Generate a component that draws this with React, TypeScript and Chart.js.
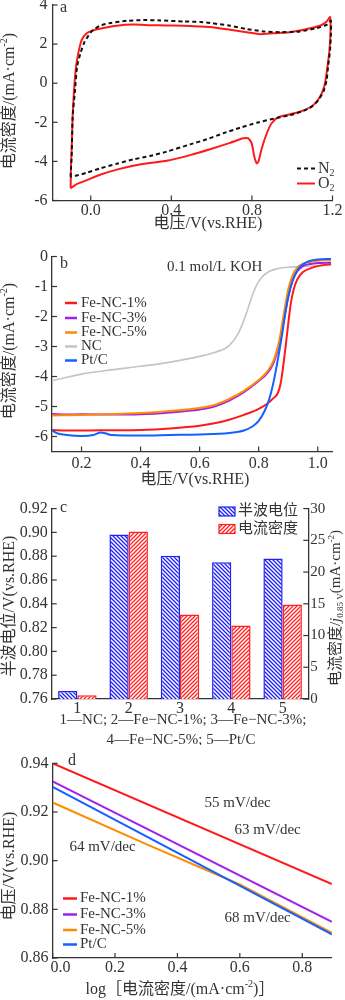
import React, { useEffect, useRef } from 'react';
import { Chart, registerables } from 'chart.js';

Chart.register(...registerables);

const SERIF = '"Liberation Serif", "Times New Roman", "Noto Sans CJK SC", serif';
Chart.defaults.font.family = SERIF;
const TXT = '#333333';
const AXIS = '#333333';
const RED = '#ff1a1a';
const PURPLE = '#a020f0';
const ORANGE = '#ff8c00';
const GRAY = '#c4c4c4';
const BLUE = '#1560ff';
const BAR_BLUE = '#2020f0';
const BAR_RED = '#ff2020';
const W = 345;

// ---------------- Panel a: cyclic voltammetry ----------------
const cvN2Voltage = [-0.1, -0.098, -0.095, -0.09, -0.078, -0.068, -0.051, -0.03, 0.004, 0.046, 0.096, 0.179, 0.261, 0.344, 0.46, 0.543, 0.592, 0.692, 0.774, 0.857, 0.94, 1.039, 1.122, 1.171, 1.192, 1.192, 1.188, 1.178, 1.171, 1.155, 1.13, 1.097, 1.055, 0.989, 0.923, 0.824, 0.741, 0.658, 0.576, 0.493, 0.377, 0.294, 0.21, 0.129, 0.046, -0.02, -0.078, -0.1];
const cvN2Current = [-4.79, -4.3, -3.76, -1.71, -0.34, 0.85, 1.54, 2.13, 2.65, 2.94, 3.08, 3.19, 3.23, 3.21, 3.16, 3.13, 3.08, 2.94, 2.77, 2.65, 2.61, 2.65, 2.82, 2.99, 3.2, 2.56, 1.71, 0.85, 0.17, -0.43, -0.86, -1.2, -1.42, -1.63, -1.78, -2.02, -2.28, -2.56, -2.87, -3.13, -3.5, -3.72, -3.9, -4.12, -4.36, -4.58, -4.75, -4.79];
const cvO2Voltage = [-0.1, -0.098, -0.095, -0.09, -0.083, -0.073, -0.062, -0.045, -0.02, 0.012, 0.062, 0.129, 0.21, 0.294, 0.377, 0.46, 0.543, 0.592, 0.692, 0.774, 0.84, 0.906, 0.989, 1.072, 1.138, 1.171, 1.188, 1.19, 1.185, 1.175, 1.163, 1.147, 1.122, 1.089, 1.039, 0.973, 0.931, 0.898, 0.874, 0.849, 0.832, 0.824, 0.812, 0.799, 0.782, 0.757, 0.691, 0.592, 0.493, 0.377, 0.294, 0.21, 0.129, 0.046, -0.02, -0.07, -0.1];
const cvO2Current = [-5.38, -4.2, -3.42, -1.71, -0.34, 0.85, 1.54, 2.22, 2.56, 2.7, 2.82, 2.94, 3.0, 2.97, 2.95, 2.94, 2.9, 2.87, 2.73, 2.61, 2.51, 2.56, 2.61, 2.77, 2.94, 3.16, 3.38, 2.56, 1.71, 0.85, 0.0, -0.51, -0.94, -1.23, -1.46, -1.63, -1.74, -2.05, -2.56, -3.33, -4.02, -4.1, -3.76, -3.08, -2.82, -2.82, -3.05, -3.38, -3.68, -3.97, -4.08, -4.22, -4.42, -4.68, -4.96, -5.16, -5.38];
const cvXTicks = { min: -0.19, max: 1.2, step: 0.4 };
const cvYTicks = { min: -6, max: 4, step: 2 };

// ---------------- Panel b: LSV ----------------
const lsvNCVoltage = [0.1, 0.2, 0.3, 0.4, 0.5, 0.6, 0.65, 0.7, 0.73, 0.75, 0.765, 0.78, 0.795, 0.81, 0.835, 0.87, 0.9, 0.95, 1.0, 1.045];
const lsvNCCurrent = [-4.14, -3.92, -3.78, -3.66, -3.52, -3.33, -3.2, -2.97, -2.58, -2.12, -1.7, -1.25, -0.92, -0.7, -0.5, -0.39, -0.36, -0.33, -0.31, -0.29];
const lsvFe1Voltage = [0.1, 0.15, 0.2, 0.3, 0.4, 0.5, 0.6, 0.65, 0.7, 0.75, 0.8, 0.83, 0.85, 0.865, 0.875, 0.885, 0.893, 0.9, 0.908, 0.918, 0.93, 0.95, 0.98, 1.0, 1.045];
const lsvFe1Current = [-5.78, -5.8, -5.8, -5.79, -5.78, -5.73, -5.64, -5.56, -5.44, -5.28, -5.08, -4.9, -4.72, -4.55, -4.2, -3.5, -2.85, -2.25, -1.62, -1.12, -0.78, -0.52, -0.38, -0.32, -0.25];
const lsvFe3Voltage = [0.1, 0.15, 0.2, 0.3, 0.4, 0.5, 0.6, 0.65, 0.7, 0.75, 0.8, 0.83, 0.85, 0.865, 0.875, 0.885, 0.9, 0.915, 0.93, 0.95, 0.98, 1.0, 1.045];
const lsvFe3Current = [-5.25, -5.27, -5.26, -5.27, -5.26, -5.2, -5.1, -5.0, -4.8, -4.52, -4.15, -3.88, -3.55, -3.1, -2.7, -2.15, -1.35, -0.8, -0.5, -0.32, -0.24, -0.22, -0.2];
const lsvFe5Voltage = [0.1, 0.2, 0.3, 0.4, 0.5, 0.6, 0.65, 0.7, 0.75, 0.8, 0.83, 0.85, 0.865, 0.875, 0.885, 0.9, 0.915, 0.93, 0.95, 0.98, 1.0, 1.045];
const lsvFe5Current = [-5.3, -5.28, -5.25, -5.22, -5.15, -5.05, -4.95, -4.75, -4.48, -4.12, -3.82, -3.48, -3.0, -2.52, -1.92, -1.1, -0.62, -0.38, -0.24, -0.17, -0.14, -0.11];
const lsvPtVoltage = [0.1, 0.12, 0.15, 0.2, 0.24, 0.265, 0.28, 0.3, 0.4, 0.5, 0.6, 0.7, 0.75, 0.78, 0.8, 0.82, 0.835, 0.85, 0.86, 0.87, 0.88, 0.89, 0.9, 0.915, 0.935, 0.96, 0.98, 1.0, 1.045];
const lsvPtCurrent = [-5.8, -5.9, -5.95, -5.98, -5.95, -5.87, -5.89, -5.95, -5.97, -5.95, -5.93, -5.88, -5.8, -5.66, -5.48, -5.15, -4.78, -4.2, -3.7, -3.15, -2.55, -1.9, -1.35, -0.8, -0.4, -0.2, -0.13, -0.1, -0.08];
const lsvLabels = ['Fe-NC-1%', 'Fe-NC-3%', 'Fe-NC-5%', 'NC', 'Pt/C'];

// ---------------- Panel c: bars ----------------
const barCategories = ['1', '2', '3', '4', '5'];
const halfWavePotential = [0.7667, 0.8983, 0.8804, 0.875, 0.8781];
const currentDensity085 = [0.6, 26.4, 13.3, 11.6, 14.9];
const barLegend = ['半波电位', '电流密度'];
const barNote1 = '1—NC; 2—Fe−NC-1%; 3—Fe−NC-3%;';
const barNote2 = '4—Fe−NC-5%; 5—Pt/C';

// ---------------- Panel d: Tafel ----------------
const tafelFe1LogJ = [0, 0.895];
const tafelFe1E = [0.94, 0.8904];
const tafelFe3LogJ = [0, 0.895];
const tafelFe3E = [0.9326, 0.8749];
const tafelFe5LogJ = [0, 0.3, 0.6, 0.895];
const tafelFe5E = [0.9239, 0.9068, 0.8902, 0.8703];
const tafelPtLogJ = [0, 0.895];
const tafelPtE = [0.9303, 0.8697];
const tafelLabels = ['Fe-NC-1%', 'Fe-NC-3%', 'Fe-NC-5%', 'Pt/C'];
const tafelSlopes = ['55 mV/dec', '63 mV/dec', '64 mV/dec', '68 mV/dec'];

// ---------------- helpers ----------------
const zip = (xs: number[], ys: number[]) => xs.map((x, i) => ({ x, y: ys[i] }));
const TICKFONT = { family: SERIF, size: 16 };

type Part = { t: string; k?: 'sup' | 'sub'; i?: boolean };

function drawRich(ctx: CanvasRenderingContext2D, parts: Part[], x: number, y: number, size: number, rotate = false, align: 'center' | 'left' = 'center') {
  ctx.save();
  ctx.fillStyle = TXT;
  ctx.textBaseline = 'middle';
  ctx.textAlign = 'left';
  const fontFor = (p: Part) => `${p.i ? 'italic ' : ''}${p.k ? Math.round(size * 0.62) : size}px ${SERIF}`;
  let w = 0;
  parts.forEach((p) => {
    ctx.font = fontFor(p);
    w += ctx.measureText(p.t).width;
  });
  ctx.translate(x, y);
  if (rotate) ctx.rotate(-Math.PI / 2);
  let cx = align === 'left' ? 0 : -w / 2;
  parts.forEach((p) => {
    ctx.font = fontFor(p);
    const dy = p.k === 'sup' ? -size * 0.33 : p.k === 'sub' ? size * 0.3 : 0;
    ctx.fillText(p.t, cx, dy);
    cx += ctx.measureText(p.t).width;
  });
  ctx.restore();
}

function text(ctx: CanvasRenderingContext2D, s: string, x: number, y: number, size = 15, align: CanvasTextAlign = 'left') {
  ctx.save();
  ctx.fillStyle = TXT;
  ctx.font = `${size}px ${SERIF}`;
  ctx.textBaseline = 'middle';
  ctx.textAlign = align;
  ctx.fillText(s, x, y);
  ctx.restore();
}

function legendLine(ctx: CanvasRenderingContext2D, x1: number, x2: number, y: number, color: string, dash: number[] = [], width = 2.5) {
  ctx.save();
  ctx.strokeStyle = color;
  ctx.lineWidth = width;
  ctx.setLineDash(dash);
  ctx.beginPath();
  ctx.moveTo(x1, y);
  ctx.lineTo(x2, y);
  ctx.stroke();
  ctx.restore();
}

function inTicks(chart: any, id: string, len = 5) {
  const s = chart.scales[id];
  const ctx: CanvasRenderingContext2D = chart.ctx;
  ctx.save();
  ctx.strokeStyle = AXIS;
  ctx.lineWidth = 1.2;
  s.ticks.forEach((t: any) => {
    const p = s.getPixelForValue(t.value);
    ctx.beginPath();
    if (s.isHorizontal()) {
      ctx.moveTo(p, s.top);
      ctx.lineTo(p, s.top - len);
    } else if (s.position === 'left') {
      ctx.moveTo(s.right, p);
      ctx.lineTo(s.right + len, p);
    } else {
      ctx.moveTo(s.left, p);
      ctx.lineTo(s.left - len, p);
    }
    ctx.stroke();
  });
  ctx.restore();
}

function hatch(color: string, back: boolean): CanvasPattern {
  const c = document.createElement('canvas');
  c.width = 4;
  c.height = 4;
  const g = c.getContext('2d')!;
  g.fillStyle = '#ffffff';
  g.fillRect(0, 0, 4, 4);
  g.strokeStyle = color;
  g.lineWidth = 1.3;
  g.beginPath();
  if (back) {
    g.moveTo(-1, -1); g.lineTo(5, 5);
    g.moveTo(-1, 3); g.lineTo(1, 5);
    g.moveTo(3, -1); g.lineTo(5, 1);
  } else {
    g.moveTo(-1, 5); g.lineTo(5, -1);
    g.moveTo(-1, 1); g.lineTo(1, -1);
    g.moveTo(3, 5); g.lineTo(5, 3);
  }
  g.stroke();
  return g.createPattern(c, 'repeat')!;
}

const baseAxis = {
  grid: { display: false, drawTicks: false },
  border: { display: true, color: AXIS, width: 1.3 },
};

const baseOptions = {
  responsive: false,
  animation: false as const,
  events: [] as any[],
  plugins: { legend: { display: false }, tooltip: { enabled: false } },
};

const yTitle: Part[] = [{ t: '电流密度/(mA·cm' }, { t: '-2', k: 'sup' }, { t: ')' }];

// ---------------- builders ----------------
function buildA(canvas: HTMLCanvasElement, top: number, height: number) {
  const P = (y: number) => y - top;
  return new Chart(canvas, {
    type: 'scatter',
    data: {
      datasets: [
        { data: zip(cvN2Voltage, cvN2Current), showLine: true, borderColor: '#111111', borderWidth: 2, borderDash: [4, 3], pointRadius: 0, tension: 0.2 },
        { data: zip(cvO2Voltage, cvO2Current), showLine: true, borderColor: RED, borderWidth: 2, pointRadius: 0, tension: 0.2 },
      ],
    },
    options: {
      ...baseOptions,
      layout: { padding: { top: P(5), right: W - 332.5, bottom: 0, left: 0 } },
      scales: {
        x: {
          type: 'linear', min: cvXTicks.min, max: cvXTicks.max, ...baseAxis,
          ticks: { stepSize: cvXTicks.step, includeBounds: false, padding: 1, color: TXT, font: TICKFONT, maxRotation: 0, callback: (v: any) => Number(v).toFixed(1) },
          afterFit: (s: any) => { s.height = height - P(200.5); },
        },
        y: {
          type: 'linear', min: cvYTicks.min, max: cvYTicks.max, ...baseAxis,
          ticks: { stepSize: cvYTicks.step, includeBounds: false, padding: 5, color: TXT, font: TICKFONT, callback: (v: any) => String(v) },
          afterFit: (s: any) => { s.width = 52.5; },
        },
      },
    } as any,
    plugins: [{
      id: 'decoA',
      afterDraw(chart: any) {
        const ctx = chart.ctx;
        inTicks(chart, 'x');
        inTicks(chart, 'y');
        text(ctx, 'a', 60, P(8), 16);
        drawRich(ctx, yTitle, 10, P(101), 16, true);
        drawRich(ctx, [{ t: '电压/V(vs.RHE)' }], 208, P(224), 16);
        legendLine(ctx, 297, 315, P(168.5), '#111111', [4, 3], 2);
        drawRich(ctx, [{ t: 'N' }, { t: '2', k: 'sub' }], 318, P(168.5), 16, false, 'left');
        legendLine(ctx, 297, 315, P(183.5), RED, [], 2);
        drawRich(ctx, [{ t: 'O' }, { t: '2', k: 'sub' }], 318, P(183.5), 16, false, 'left');
      },
    }],
  });
}

function buildB(canvas: HTMLCanvasElement, top: number, height: number) {
  const P = (y: number) => y - top;
  const line = (xs: number[], ys: number[], color: string, w = 2) => ({
    data: zip(xs, ys), showLine: true, borderColor: color, borderWidth: w, pointRadius: 0, cubicInterpolationMode: 'monotone' as const,
  });
  const colors = [RED, PURPLE, ORANGE, GRAY, BLUE];
  return new Chart(canvas, {
    type: 'scatter',
    data: {
      datasets: [
        line(lsvPtVoltage, lsvPtCurrent, BLUE),
        line(lsvFe1Voltage, lsvFe1Current, RED),
        line(lsvFe5Voltage, lsvFe5Current, ORANGE),
        line(lsvFe3Voltage, lsvFe3Current, PURPLE),
        line(lsvNCVoltage, lsvNCCurrent, GRAY, 1.6),
      ],
    },
    options: {
      ...baseOptions,
      layout: { padding: { top: P(256.5), right: W - 332.5, bottom: 0, left: 0 } },
      scales: {
        x: {
          type: 'linear', min: 0.1, max: 1.05, ...baseAxis,
          ticks: { stepSize: 0.2, includeBounds: false, padding: 3, color: TXT, font: TICKFONT, maxRotation: 0, callback: (v: any) => Number(v).toFixed(1) },
          afterFit: (s: any) => { s.height = height - P(451.5); },
        },
        y: {
          type: 'linear', min: -6.5, max: 0, ...baseAxis,
          ticks: { stepSize: 1, includeBounds: false, padding: 4, color: TXT, font: TICKFONT, callback: (v: any) => String(v) },
          afterFit: (s: any) => { s.width = 52; },
        },
      },
    } as any,
    plugins: [{
      id: 'decoB',
      afterDraw(chart: any) {
        const ctx = chart.ctx;
        inTicks(chart, 'x');
        inTicks(chart, 'y');
        text(ctx, 'b', 60, P(264), 16);
        const xs = chart.scales.x, ys = chart.scales.y;
        text(ctx, '0.1 mol/L KOH', xs.getPixelForValue(0.651), ys.getPixelForValue(-0.34), 15, 'center');
        const ly = [303, 318, 332.5, 346.5, 360.5];
        lsvLabels.forEach((lab, i) => {
          legendLine(ctx, 65, 77, P(ly[i]), colors[i], [], 2.5);
          text(ctx, lab, 81, P(ly[i]), 15);
        });
        drawRich(ctx, yTitle, 10, P(351), 16, true);
        drawRich(ctx, [{ t: '电压/V(vs.RHE)' }], 195, P(480), 16);
      },
    }],
  });
}

function buildC(canvas: HTMLCanvasElement, top: number, height: number) {
  const P = (y: number) => y - top;
  const bluePat = hatch(BAR_BLUE, true);
  const redPat = hatch(BAR_RED, false);
  return new Chart(canvas, {
    type: 'bar',
    data: {
      labels: barCategories,
      datasets: [
        { label: barLegend[0], data: halfWavePotential, yAxisID: 'y', backgroundColor: bluePat, borderColor: BAR_BLUE, borderWidth: 1.5, categoryPercentage: 0.75, barPercentage: 1 },
        { label: barLegend[1], data: currentDensity085, yAxisID: 'y1', backgroundColor: redPat, borderColor: BAR_RED, borderWidth: 1.5, categoryPercentage: 0.75, barPercentage: 1 },
      ],
    },
    options: {
      ...baseOptions,
      layout: { padding: { top: P(506.7), right: 0, bottom: 0, left: 0 } },
      scales: {
        x: {
          ...baseAxis,
          ticks: { padding: 0, color: TXT, font: TICKFONT, maxRotation: 0 },
          afterFit: (s: any) => { s.height = height - P(699); },
        },
        y: {
          type: 'linear', position: 'left', min: 0.76, max: 0.92, ...baseAxis,
          ticks: { stepSize: 0.02, padding: 4, color: TXT, font: TICKFONT, callback: (v: any) => Number(v).toFixed(2) },
          afterFit: (s: any) => { s.width = 51.7; },
        },
        y1: {
          type: 'linear', position: 'right', min: 0, max: 30, ...baseAxis,
          ticks: { stepSize: 5, padding: 2, color: TXT, font: { family: SERIF, size: 15 }, callback: (v: any) => String(v) },
          afterFit: (s: any) => { s.width = W - 308.3; },
        },
      },
    } as any,
    plugins: [{
      id: 'decoC',
      afterDraw(chart: any) {
        const ctx: CanvasRenderingContext2D = chart.ctx;
        inTicks(chart, 'y');
        inTicks(chart, 'y1');
        text(ctx, 'c', 60, P(508), 16);
        const pats = [bluePat, redPat];
        const cols = [BAR_BLUE, BAR_RED];
        const ly = [511.5, 529];
        barLegend.forEach((lab, i) => {
          ctx.save();
          ctx.fillStyle = pats[i];
          ctx.fillRect(219, P(ly[i]) - 4.5, 16, 9);
          ctx.strokeStyle = cols[i];
          ctx.lineWidth = 1.2;
          ctx.strokeRect(219, P(ly[i]) - 4.5, 16, 9);
          ctx.restore();
          text(ctx, lab, 238, P(ly[i]), 15);
        });
        drawRich(ctx, [{ t: '半波电位/V(vs.RHE)' }], 10, P(606), 16, true);
        drawRich(ctx, [{ t: '电流密度/' }, { t: 'j', i: true }, { t: '0.85 V', k: 'sub' }, { t: '(mA·cm' }, { t: '-2', k: 'sup' }, { t: ')' }], 336.5, P(608), 15, true);
        text(ctx, barNote1, 183, P(720), 15, 'center');
        text(ctx, barNote2, 181, P(740.5), 15, 'center');
      },
    }],
  });
}

function buildD(canvas: HTMLCanvasElement, top: number, height: number) {
  const P = (y: number) => y - top;
  const line = (xs: number[], ys: number[], color: string) => ({
    data: zip(xs, ys), showLine: true, borderColor: color, borderWidth: 2, pointRadius: 0,
  });
  const colors = [RED, PURPLE, ORANGE, BLUE];
  return new Chart(canvas, {
    type: 'scatter',
    data: {
      datasets: [
        line(tafelFe1LogJ, tafelFe1E, RED),
        line(tafelFe3LogJ, tafelFe3E, PURPLE),
        line(tafelPtLogJ, tafelPtE, BLUE),
        line(tafelFe5LogJ, tafelFe5E, ORANGE),
      ],
    },
    options: {
      ...baseOptions,
      layout: { padding: { top: P(763.3), right: W - 331.9, bottom: 0, left: 0 } },
      scales: {
        x: {
          type: 'linear', min: 0, max: 0.895, ...baseAxis,
          ticks: { stepSize: 0.2, includeBounds: false, padding: 0, color: TXT, font: TICKFONT, maxRotation: 0, callback: (v: any) => (Number(v) === 0 ? '    0.0' : Number(v).toFixed(1)) },
          afterFit: (s: any) => { s.height = height - P(958); },
        },
        y: {
          type: 'linear', min: 0.86, max: 0.94, ...baseAxis,
          ticks: { stepSize: 0.02, padding: 4, color: TXT, font: TICKFONT, callback: (v: any) => Number(v).toFixed(2) },
          afterFit: (s: any) => { s.width = 52.6; },
        },
      },
    } as any,
    plugins: [{
      id: 'decoD',
      afterDraw(chart: any) {
        const ctx = chart.ctx;
        inTicks(chart, 'x');
        inTicks(chart, 'y');
        text(ctx, 'd', 68, P(761), 16);
        const xs = chart.scales.x, ys = chart.scales.y;
        const pos = [[0.593, 0.9235], [0.689, 0.9124], [0.16, 0.9055], [0.657, 0.8763]];
        tafelSlopes.forEach((s, i) => text(ctx, s, xs.getPixelForValue(pos[i][0]), ys.getPixelForValue(pos[i][1]), 15, 'center'));
        const ly = [898.5, 914.5, 930, 944.5];
        tafelLabels.forEach((lab, i) => {
          legendLine(ctx, 63, 77, P(ly[i]), colors[i], [], 2.5);
          text(ctx, lab, 80, P(ly[i]), 15);
        });
        drawRich(ctx, [{ t: '电压/V(vs.RHE)' }], 10, P(866), 16, true);
        drawRich(ctx, [{ t: 'log［电流密度/(mA·cm' }, { t: '-2', k: 'sup' }, { t: ')］' }], 180, P(990), 16);
      },
    }],
  });
}

type Builder = (c: HTMLCanvasElement, top: number, height: number) => Chart;

function Panel({ top, height, build }: { top: number; height: number; build: Builder }) {
  const ref = useRef<HTMLCanvasElement>(null);
  useEffect(() => {
    if (!ref.current) return;
    const ch = build(ref.current, top, height);
    return () => ch.destroy();
  }, []);
  return (
    <div style={{ position: 'absolute', left: 0, top, width: W, height }}>
      <canvas ref={ref} width={W} height={height} style={{ display: 'block', width: W, height }} />
    </div>
  );
}

export default function App() {
  return (
    <div style={{ position: 'absolute', left: 0, top: 0, width: W, height: 1000, overflow: 'hidden', background: '#ffffff' }}>
      <Panel top={-10} height={245} build={buildA} />
      <Panel top={232} height={263} build={buildB} />
      <Panel top={495} height={250} build={buildC} />
      <Panel top={745} height={255} build={buildD} />
    </div>
  );
}
